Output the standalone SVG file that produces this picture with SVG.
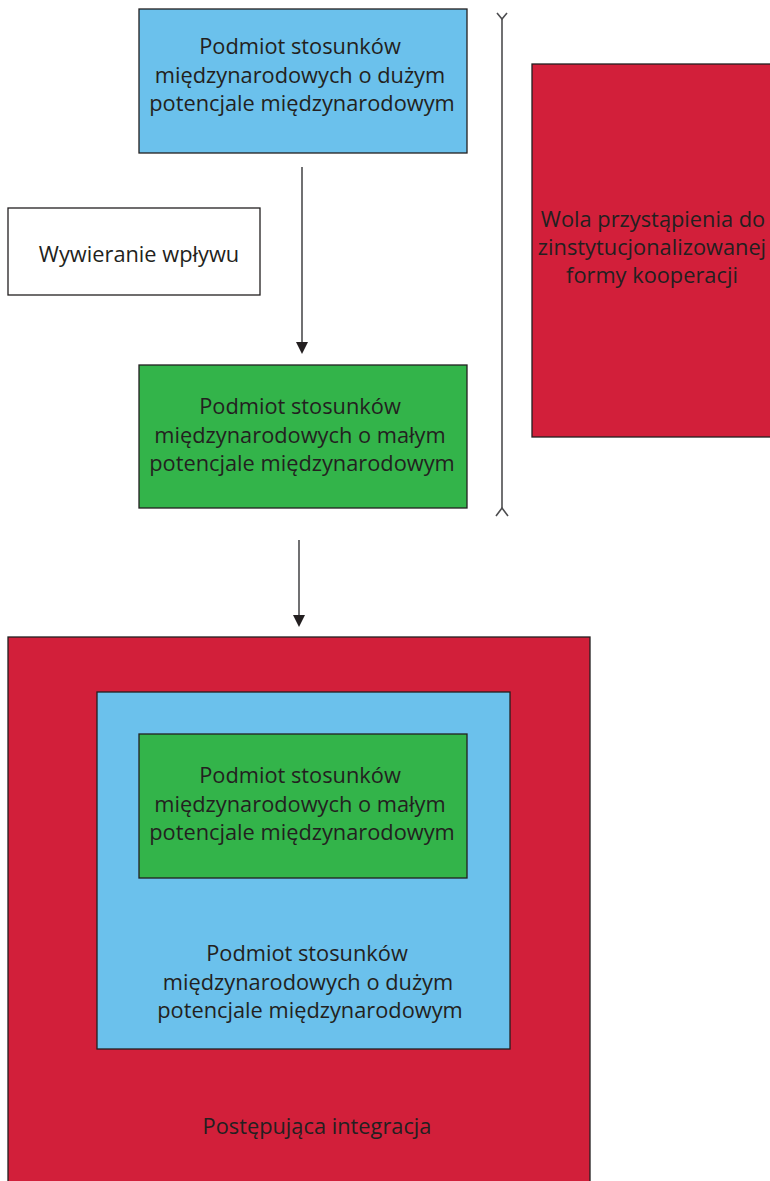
<svg xmlns="http://www.w3.org/2000/svg" width="770" height="1181" viewBox="0 0 770 1181">
  <style>
    .box { stroke: #231f20; stroke-width: 1.3; }
    .blue { fill: #6bc1ec; }
    .green { fill: #33b44a; }
    .red { fill: #d21f3a; }
    .white { fill: #ffffff; }
    .lbl { font-family: "Open Sans", "Noto Sans", sans-serif; font-size: 21.8px; fill: #231f20; text-anchor: middle; }
    .conn { stroke: #4d4d4f; stroke-width: 1.6; fill: none; }
  </style>
  <defs>
    <marker id="arrow" markerWidth="12" markerHeight="12" refX="10" refY="6" orient="auto" markerUnits="userSpaceOnUse">
      <path d="M0,0 L12,6 L0,12 Z" fill="#231f20"/>
    </marker>
  </defs>

  <g id="strong-actor">
    <rect class="box blue" x="139" y="9" width="328" height="144"/>
    <text class="lbl" x="300" y="54">Podmiot stosunków</text>
    <text class="lbl" x="300" y="83">międzynarodowych o dużym</text>
    <text class="lbl" x="302" y="111">potencjale międzynarodowym</text>
  </g>

  <g id="influence">
    <rect class="box white" x="8" y="208" width="252" height="87"/>
    <text class="lbl" x="139" y="262">Wywieranie wpływu</text>
  </g>

  <g id="weak-actor">
    <rect class="box green" x="139" y="365" width="328" height="143"/>
    <text class="lbl" x="300" y="414">Podmiot stosunków</text>
    <text class="lbl" x="300" y="443">międzynarodowych o małym</text>
    <text class="lbl" x="302" y="471">potencjale międzynarodowym</text>
  </g>

  <g id="will">
    <rect class="box red" x="532" y="64" width="250" height="373"/>
    <text class="lbl" x="653" y="227">Wola przystąpienia do</text>
    <text class="lbl" x="652" y="255">zinstytucjonalizowanej</text>
    <text class="lbl" x="652" y="283">formy kooperacji</text>
  </g>

  <g id="integration">
    <rect class="box red" x="8" y="637" width="582" height="560"/>
    <text class="lbl" x="317" y="1134">Postępująca integracja</text>
    <g id="integration-strong">
      <rect class="box blue" x="97" y="692" width="413" height="357"/>
      <text class="lbl" x="307" y="961">Podmiot stosunków</text>
      <text class="lbl" x="308" y="990">międzynarodowych o dużym</text>
      <text class="lbl" x="310" y="1018">potencjale międzynarodowym</text>
    </g>
    <g id="integration-weak">
      <rect class="box green" x="139" y="734" width="328" height="144"/>
      <text class="lbl" x="300" y="783">Podmiot stosunków</text>
      <text class="lbl" x="300" y="812">międzynarodowych o małym</text>
      <text class="lbl" x="302" y="840">potencjale międzynarodowym</text>
    </g>
  </g>

  <g id="connectors">
    <line class="conn" x1="302" y1="167" x2="302" y2="352" marker-end="url(#arrow)"/>
    <line class="conn" x1="299" y1="540" x2="299" y2="625" marker-end="url(#arrow)"/>
    <!-- span bracket with forked ends -->
    <line class="conn" x1="502" y1="19" x2="502" y2="508"/>
    <path class="conn" d="M497,13 L502,19 L507,13"/>
    <path class="conn" d="M496,516 L502,508 L508,516"/>
  </g>
</svg>
